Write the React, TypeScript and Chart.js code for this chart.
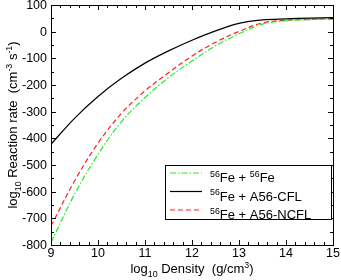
import React, { useEffect, useRef } from "react";
import { Chart, registerables } from "chart.js";
Chart.register(...registerables);

// log10 density (g/cm^3)
const densities = [9, 9.5, 10, 10.5, 11, 11.5, 12, 12.5, 13, 13.5, 14, 14.5, 15];
// log10 reaction rate (cm^-3 s^-1)
const rateFeFe = [-791, -610, -460, -337, -247, -172, -110, -53, -8, 28, 41, 45, 48];
const rateCFL = [-422, -325, -243, -175, -118, -72, -32, 3, 31, 44, 48, 51, 53];
const rateNCFL = [-729, -560, -418, -306, -222, -154, -91, -40, 1, 33, 43, 46, 49];

const xTicks = [9, 10, 11, 12, 13, 14, 15];
const yTicks = [-800, -700, -600, -500, -400, -300, -200, -100, 0, 100];

type Seg = { t: string; s?: "sup" | "sub" };

const legendItems: { label: Seg[]; color: string; dash: number[] }[] = [
  { label: [{ t: "56", s: "sup" }, { t: "Fe + " }, { t: "56", s: "sup" }, { t: "Fe" }], color: "#22ee22", dash: [6, 2, 1.5, 2] },
  { label: [{ t: "56", s: "sup" }, { t: "Fe + A56-CFL" }], color: "#000000", dash: [] },
  { label: [{ t: "56", s: "sup" }, { t: "Fe + A56-NCFL" }], color: "#ff2020", dash: [5, 3] },
];

const xTitle: Seg[] = [{ t: "log" }, { t: "10", s: "sub" }, { t: " Density  (g/cm" }, { t: "3", s: "sup" }, { t: ")" }];
const yTitle: Seg[] = [
  { t: "log" }, { t: "10", s: "sub" }, { t: " Reaction rate  (cm" }, { t: "-3", s: "sup" }, { t: " s" }, { t: "-1", s: "sup" }, { t: ")" },
];

const FAMILY = "'Liberation Sans', Arial, Helvetica, sans-serif";

function segFont(size: number, s?: string) {
  return `${s ? size * 0.68 : size}px ${FAMILY}`;
}
function measureRich(ctx: CanvasRenderingContext2D, segs: Seg[], size: number) {
  let w = 0;
  for (const sg of segs) {
    ctx.font = segFont(size, sg.s);
    w += ctx.measureText(sg.t).width;
  }
  return w;
}
function drawRich(ctx: CanvasRenderingContext2D, segs: Seg[], x: number, y: number, size: number) {
  ctx.textBaseline = "alphabetic";
  ctx.textAlign = "left";
  let cx = x;
  for (const sg of segs) {
    ctx.font = segFont(size, sg.s);
    const dy = sg.s === "sup" ? -size * 0.42 : sg.s === "sub" ? size * 0.3 : 0;
    ctx.fillText(sg.t, cx, y + dy);
    cx += ctx.measureText(sg.t).width;
  }
}

const decorPlugin = {
  id: "decor",
  afterDraw(chart: any) {
    const ctx: CanvasRenderingContext2D = chart.ctx;
    const { left, right, top, bottom } = chart.chartArea;
    const xs = chart.scales.x;
    const ys = chart.scales.y;
    ctx.save();
    ctx.strokeStyle = "#000";
    ctx.lineWidth = 1;
    ctx.setLineDash([]);
    ctx.strokeRect(Math.round(left) + 0.5, Math.round(top) + 0.5, Math.round(right - left), Math.round(bottom - top));
    ctx.beginPath();
    // x ticks (major every 1, minor every 0.2)
    for (let i = 0; i <= 30; i++) {
      const v = 9 + i * 0.2;
      const px = Math.round(xs.getPixelForValue(v)) + 0.5;
      const len = i % 5 === 0 ? 5 : 3;
      ctx.moveTo(px, bottom);
      ctx.lineTo(px, bottom - len);
      ctx.moveTo(px, top);
      ctx.lineTo(px, top + len);
    }
    // y ticks (major every 100, minor every 50)
    for (let i = 0; i <= 18; i++) {
      const v = -800 + i * 50;
      const py = Math.round(ys.getPixelForValue(v)) + 0.5;
      const len = i % 2 === 0 ? 5 : 3;
      ctx.moveTo(left, py);
      ctx.lineTo(left + len, py);
      ctx.moveTo(right, py);
      ctx.lineTo(right - len, py);
    }
    ctx.stroke();

    ctx.fillStyle = "#000";
    ctx.font = `12.5px ${FAMILY}`;
    // x tick labels
    ctx.textAlign = "center";
    ctx.textBaseline = "alphabetic";
    for (const v of xTicks) ctx.fillText(String(v), xs.getPixelForValue(v), 256.5);
    // y tick labels
    ctx.textAlign = "right";
    ctx.textBaseline = "middle";
    for (const v of yTicks) ctx.fillText(String(v), left - 4, ys.getPixelForValue(v) + 0.5);

    // x title
    const xw = measureRich(ctx, xTitle, 13);
    drawRich(ctx, xTitle, (left + right) / 2 - xw / 2, 273, 13);
    // y title
    const yw = measureRich(ctx, yTitle, 13);
    ctx.save();
    ctx.translate(17, (top + bottom) / 2);
    ctx.rotate(-Math.PI / 2);
    drawRich(ctx, yTitle, -yw / 2, 0, 13);
    ctx.restore();

    // legend
    const bx = 165.5, by = 165.5, bw = 166, bh = 54;
    ctx.fillStyle = "#fff";
    ctx.fillRect(bx, by, bw, bh);
    ctx.strokeStyle = "#000";
    ctx.strokeRect(bx, by, bw, bh);
    const rows = [173, 191.5, 210];
    legendItems.forEach((it, i) => {
      const y = rows[i];
      ctx.strokeStyle = it.color;
      ctx.lineWidth = 1.2;
      ctx.setLineDash(it.dash);
      ctx.beginPath();
      ctx.moveTo(170, y);
      ctx.lineTo(202, y);
      ctx.stroke();
      ctx.setLineDash([]);
      ctx.fillStyle = "#000";
      drawRich(ctx, it.label, 210, y + 9, 13);
    });
    ctx.restore();
  },
};

export default function App() {
  const ref = useRef<HTMLCanvasElement | null>(null);
  useEffect(() => {
    if (!ref.current) return;
    const mk = (arr: number[]) => densities.map((x, i) => ({ x, y: arr[i] }));
    const chart = new Chart(ref.current, {
      type: "line",
      data: {
        datasets: [
          { label: "CFL", data: mk(rateCFL), borderColor: "#000000", borderWidth: 1.2, pointRadius: 0, tension: 0.35, fill: false },
          { label: "FeFe", data: mk(rateFeFe), borderColor: "#22ee22", borderWidth: 1.2, borderDash: [6, 2, 1.5, 2], pointRadius: 0, tension: 0.35, fill: false },
          { label: "NCFL", data: mk(rateNCFL), borderColor: "#ff2020", borderWidth: 1.2, borderDash: [5, 3], pointRadius: 0, tension: 0.35, fill: false },
        ],
      },
      options: {
        animation: false,
        responsive: false,
        devicePixelRatio: 1,
        layout: { padding: { top: 5, right: 8, left: 51, bottom: 35 } },
        plugins: { legend: { display: false }, tooltip: { enabled: false } },
        scales: {
          x: { type: "linear", min: 9, max: 15, display: false },
          y: { type: "linear", min: -800, max: 100, display: false },
        },
      },
      plugins: [decorPlugin],
    } as any);
    return () => chart.destroy();
  }, []);
  return (
    <div style={{ position: "fixed", left: 0, top: 0, width: 341, height: 280, background: "#fff" }}>
      <canvas ref={ref} width={341} height={280} style={{ width: 341, height: 280 }} />
    </div>
  );
}
